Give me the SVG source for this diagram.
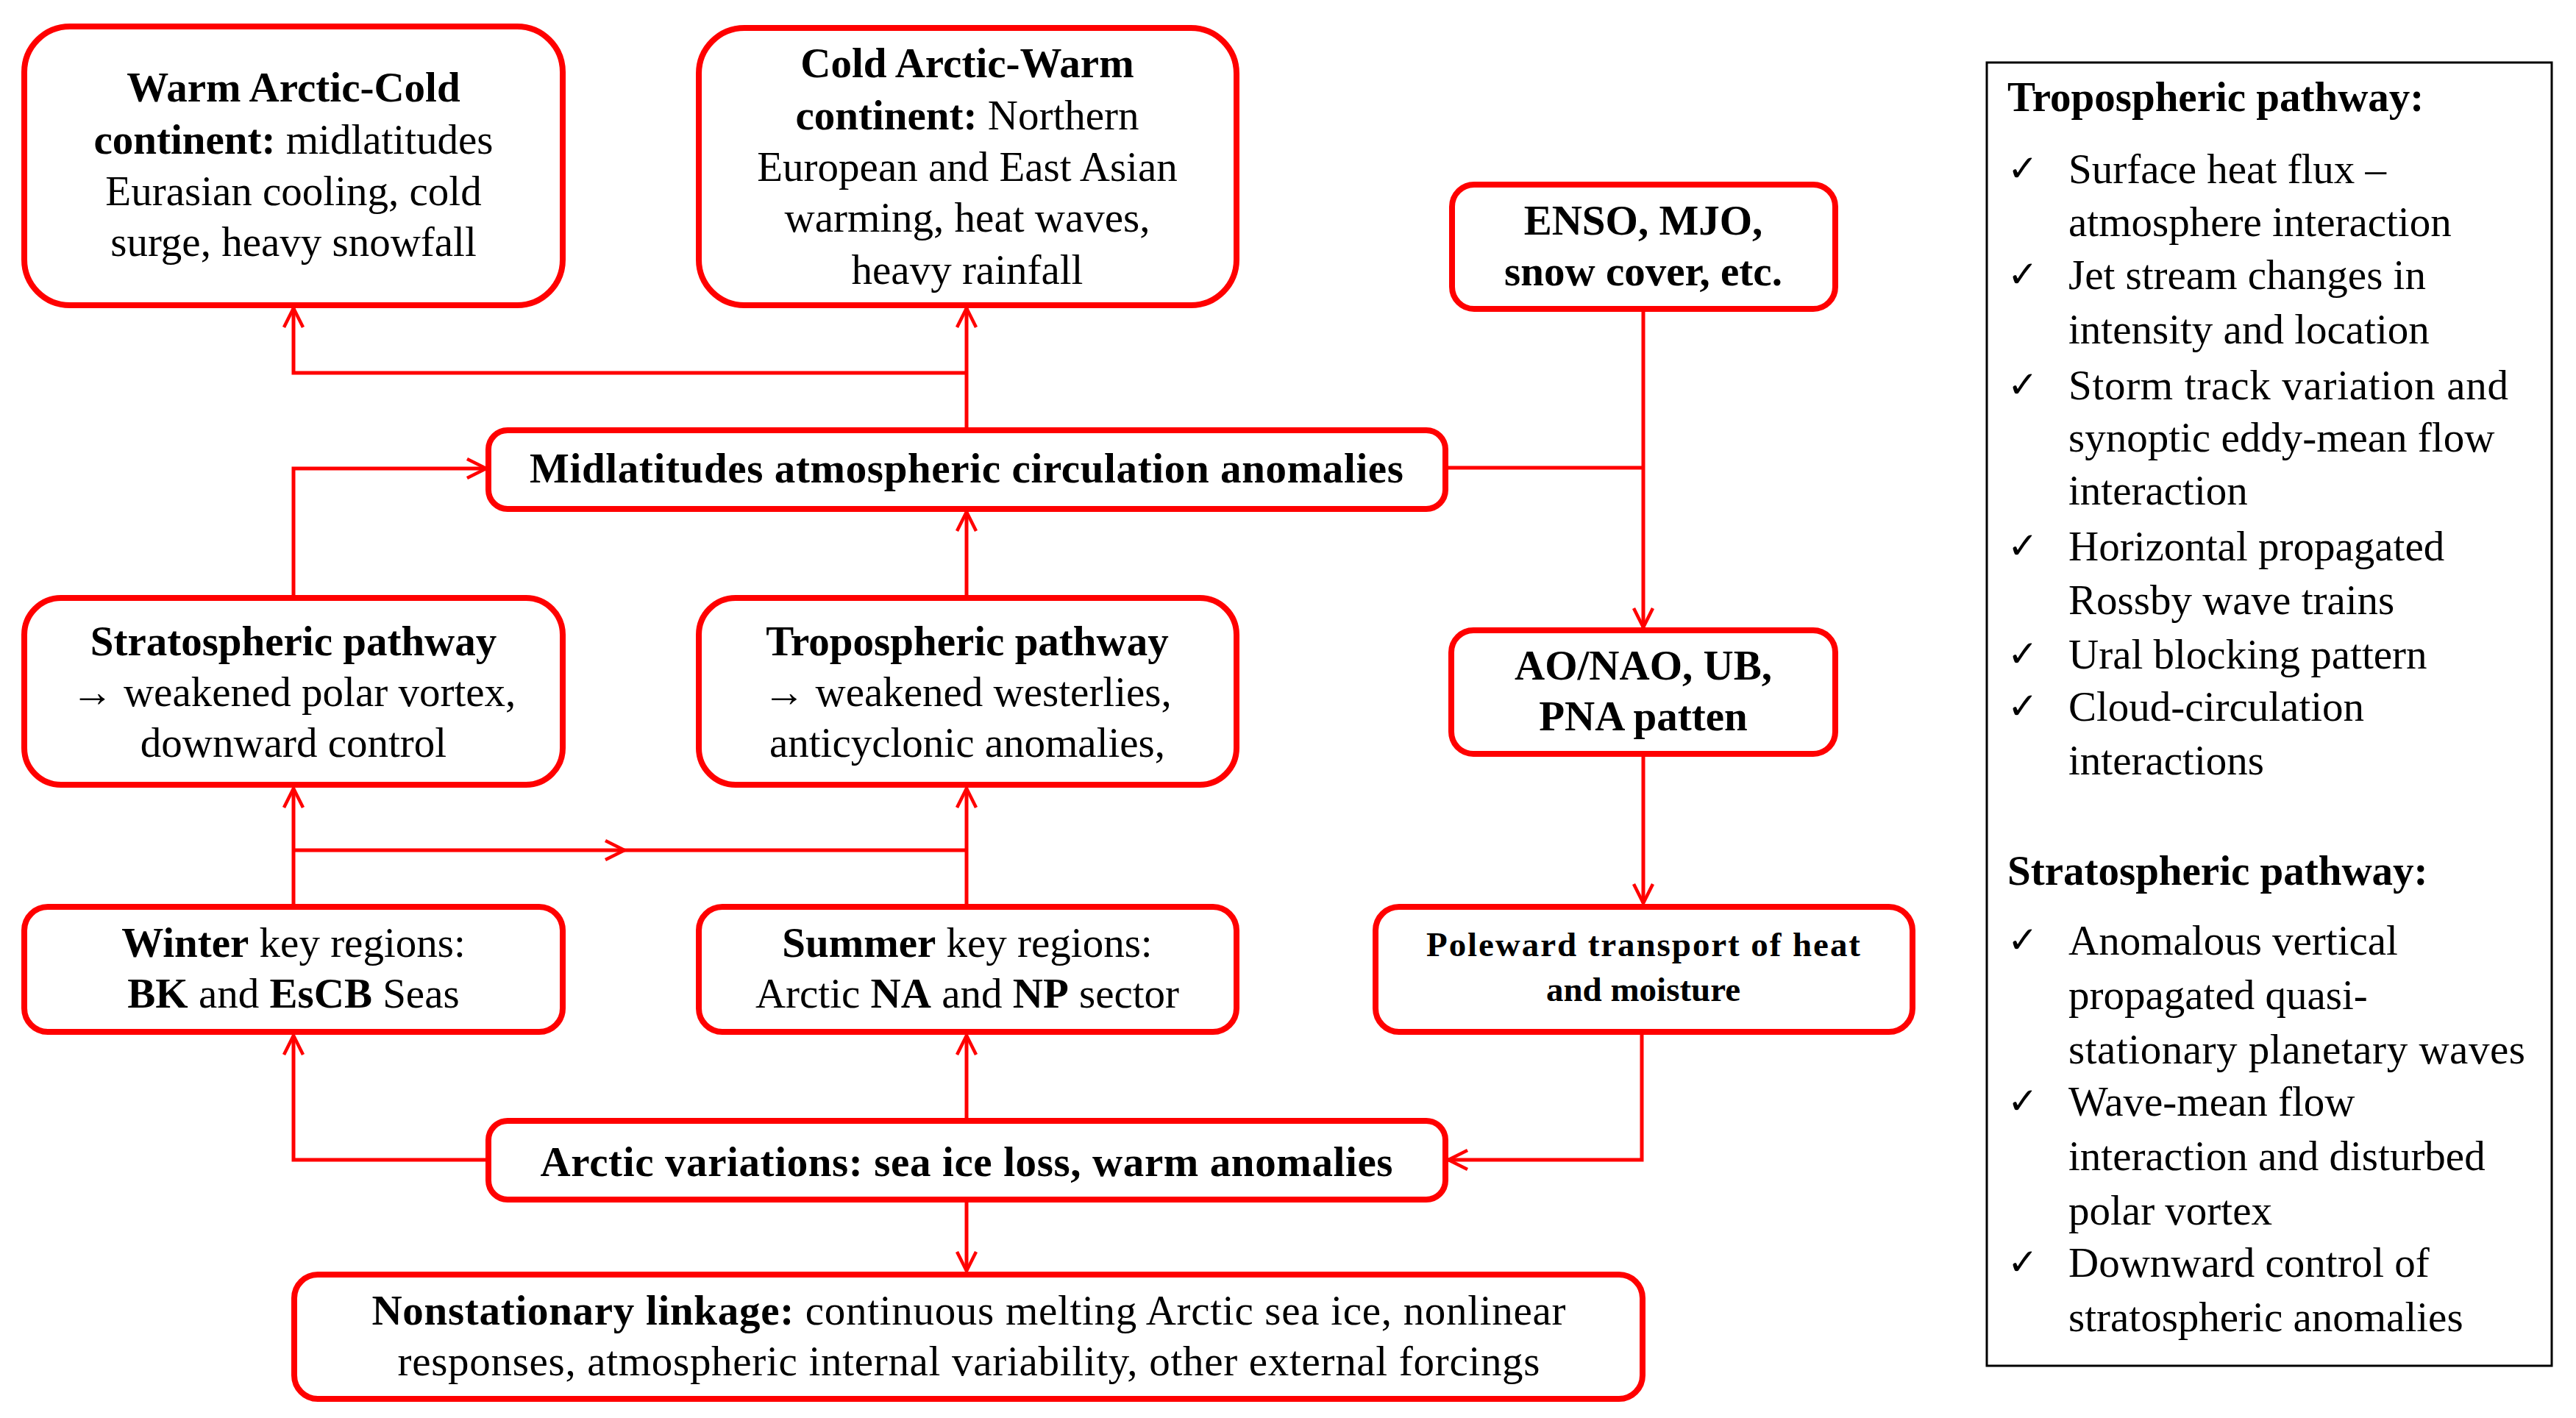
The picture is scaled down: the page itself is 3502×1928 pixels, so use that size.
<svg xmlns="http://www.w3.org/2000/svg" width="3502" height="1928" viewBox="0 0 3502 1928">
<style>
.box{fill:#fff;stroke:#ff0000;stroke-width:8}
.con{fill:none;stroke:#ff0000;stroke-width:5}
text{font-family:'Liberation Serif',serif}
.t{font-size:57px;fill:#000;text-anchor:middle}
.b{font-weight:bold}
.p{font-size:57px;fill:#000}
.ck{font-family:'DejaVu Sans',sans-serif;font-size:50px;fill:#000}
</style>
<defs>
<marker id="arr" markerUnits="userSpaceOnUse" viewBox="-32 -18 36 36" refX="0" refY="0" markerWidth="36" markerHeight="36" orient="auto">
<path d="M-26,-13 L0,0 L-26,13" fill="none" stroke="#ff0000" stroke-width="4.5"/>
</marker>
</defs>
<rect width="3502" height="1928" fill="#fff"/>

<g id="connectors">
<path class="con" d="M1314,585 V419" marker-end="url(#arr)"/>
<path class="con" d="M1314,507 H399 V419" marker-end="url(#arr)"/>
<path class="con" d="M399,812 V637 H661" marker-end="url(#arr)"/>
<path class="con" d="M1314,812 V696" marker-end="url(#arr)"/>
<path class="con" d="M2234,420 V853" marker-end="url(#arr)"/>
<path class="con" d="M1965,636 H2234"/>
<path class="con" d="M2234,1025 V1228" marker-end="url(#arr)"/>
<path class="con" d="M399,1232 V1072" marker-end="url(#arr)"/>
<path class="con" d="M1314,1232 V1072" marker-end="url(#arr)"/>
<path class="con" d="M399,1156 H849" marker-end="url(#arr)"/>
<path class="con" d="M849,1156 H1314"/>
<path class="con" d="M663,1577 H399 V1408" marker-end="url(#arr)"/>
<path class="con" d="M1314,1523 V1408" marker-end="url(#arr)"/>
<path class="con" d="M2232,1404 V1577 H1969" marker-end="url(#arr)"/>
<path class="con" d="M1314,1632 V1728" marker-end="url(#arr)"/>
</g>

<g id="warm-arctic">
<rect class="box" x="33" y="36" width="732" height="379" rx="62"/>
<text class="t" x="399" y="138"><tspan class="b">Warm Arctic-Cold</tspan></text>
<text class="t" x="399" y="209"><tspan class="b">continent:</tspan> midlatitudes</text>
<text class="t" x="399" y="279">Eurasian cooling, cold</text>
<text class="t" x="399" y="348">surge, heavy snowfall</text>
</g>

<g id="cold-arctic">
<rect class="box" x="950" y="38" width="731" height="377" rx="62"/>
<text class="t" x="1315" y="105"><tspan class="b">Cold Arctic-Warm</tspan></text>
<text class="t" x="1315" y="176"><tspan class="b">continent:</tspan> Northern</text>
<text class="t" x="1315" y="246">European and East Asian</text>
<text class="t" x="1315" y="315">warming, heat waves,</text>
<text class="t" x="1315" y="386">heavy rainfall</text>
</g>

<g id="enso">
<rect class="box" x="1974" y="251" width="521" height="169" rx="30"/>
<text class="t b" x="2234" y="319">ENSO, MJO,</text>
<text class="t b" x="2234" y="388">snow cover, etc.</text>
</g>

<g id="midlatitudes">
<rect class="box" x="664" y="585" width="1301" height="107" rx="26"/>
<text class="t b" x="1314" y="656" textLength="1188" lengthAdjust="spacing">Midlatitudes atmospheric circulation anomalies</text>
</g>

<g id="stratospheric">
<rect class="box" x="33" y="813" width="732" height="254" rx="50"/>
<text class="t b" x="399" y="891">Stratospheric pathway</text>
<text class="t" x="399" y="960">→ weakened polar vortex,</text>
<text class="t" x="399" y="1029">downward control</text>
</g>

<g id="tropospheric">
<rect class="box" x="950" y="813" width="731" height="254" rx="50"/>
<text class="t b" x="1315" y="891">Tropospheric pathway</text>
<text class="t" x="1315" y="960">→ weakened westerlies,</text>
<text class="t" x="1315" y="1029">anticyclonic anomalies,</text>
</g>

<g id="ao-nao">
<rect class="box" x="1973" y="857" width="522" height="168" rx="30"/>
<text class="t b" x="2234" y="924">AO/NAO, UB,</text>
<text class="t b" x="2234" y="993">PNA patten</text>
</g>

<g id="winter">
<rect class="box" x="33" y="1233" width="732" height="170" rx="32"/>
<text class="t" x="399" y="1301"><tspan class="b">Winter</tspan> key regions:</text>
<text class="t" x="399" y="1370"><tspan class="b">BK</tspan> and <tspan class="b">EsCB</tspan> Seas</text>
</g>

<g id="summer">
<rect class="box" x="950" y="1233" width="731" height="170" rx="32"/>
<text class="t" x="1315" y="1301"><tspan class="b">Summer</tspan> key regions:</text>
<text class="t" x="1315" y="1370">Arctic <tspan class="b">NA</tspan> and <tspan class="b">NP</tspan> sector</text>
</g>

<g id="poleward">
<rect class="box" x="1870" y="1233" width="730" height="170" rx="32"/>
<text class="t b" x="2234" y="1300" style="font-size:47px" textLength="590">Poleward transport of heat</text>
<text class="t b" x="2234" y="1361" style="font-size:47px">and moisture</text>
</g>

<g id="arctic-variations">
<rect class="box" x="664" y="1524" width="1301" height="107" rx="26"/>
<text class="t b" x="1314" y="1599" textLength="1159" lengthAdjust="spacing">Arctic variations: sea ice loss, warm anomalies</text>
</g>

<g id="nonstationary">
<rect class="box" x="400" y="1733" width="1833" height="169" rx="32"/>
<text class="t" x="1317" y="1801" textLength="1623" lengthAdjust="spacing"><tspan class="b">Nonstationary linkage:</tspan> continuous melting Arctic sea ice, nonlinear</text>
<text class="t" x="1317" y="1870" textLength="1553" lengthAdjust="spacing">responses, atmospheric internal variability, other external forcings</text>
</g>

<g id="legend">
<rect x="2701" y="85" width="768" height="1772" fill="#fff" stroke="#000" stroke-width="3"/>
<text class="p b" x="2729" y="151">Tropospheric pathway:</text>
<text class="ck" x="2729" y="246">✓</text>
<text class="p" x="2812" y="249">Surface heat flux –</text>
<text class="p" x="2812" y="321">atmosphere interaction</text>
<text class="ck" x="2729" y="390">✓</text>
<text class="p" x="2812" y="393">Jet stream changes in</text>
<text class="p" x="2812" y="467">intensity and location</text>
<text class="ck" x="2729" y="540">✓</text>
<text class="p" x="2812" y="543" textLength="598" lengthAdjust="spacing">Storm track variation and</text>
<text class="p" x="2812" y="614">synoptic eddy-mean flow</text>
<text class="p" x="2812" y="686">interaction</text>
<text class="ck" x="2729" y="759">✓</text>
<text class="p" x="2812" y="762">Horizontal propagated</text>
<text class="p" x="2812" y="835">Rossby wave trains</text>
<text class="ck" x="2729" y="906">✓</text>
<text class="p" x="2812" y="909">Ural blocking pattern</text>
<text class="ck" x="2729" y="977">✓</text>
<text class="p" x="2812" y="980">Cloud-circulation</text>
<text class="p" x="2812" y="1053">interactions</text>
<text class="p b" x="2729" y="1203">Stratospheric pathway:</text>
<text class="ck" x="2729" y="1295">✓</text>
<text class="p" x="2812" y="1298">Anomalous vertical</text>
<text class="p" x="2812" y="1372">propagated quasi-</text>
<text class="p" x="2812" y="1446" textLength="621" lengthAdjust="spacing">stationary planetary waves</text>
<text class="ck" x="2729" y="1514">✓</text>
<text class="p" x="2812" y="1517">Wave-mean flow</text>
<text class="p" x="2812" y="1591">interaction and disturbed</text>
<text class="p" x="2812" y="1665">polar vortex</text>
<text class="ck" x="2729" y="1733">✓</text>
<text class="p" x="2812" y="1736">Downward control of</text>
<text class="p" x="2812" y="1810">stratospheric anomalies</text>
</g>
</svg>
